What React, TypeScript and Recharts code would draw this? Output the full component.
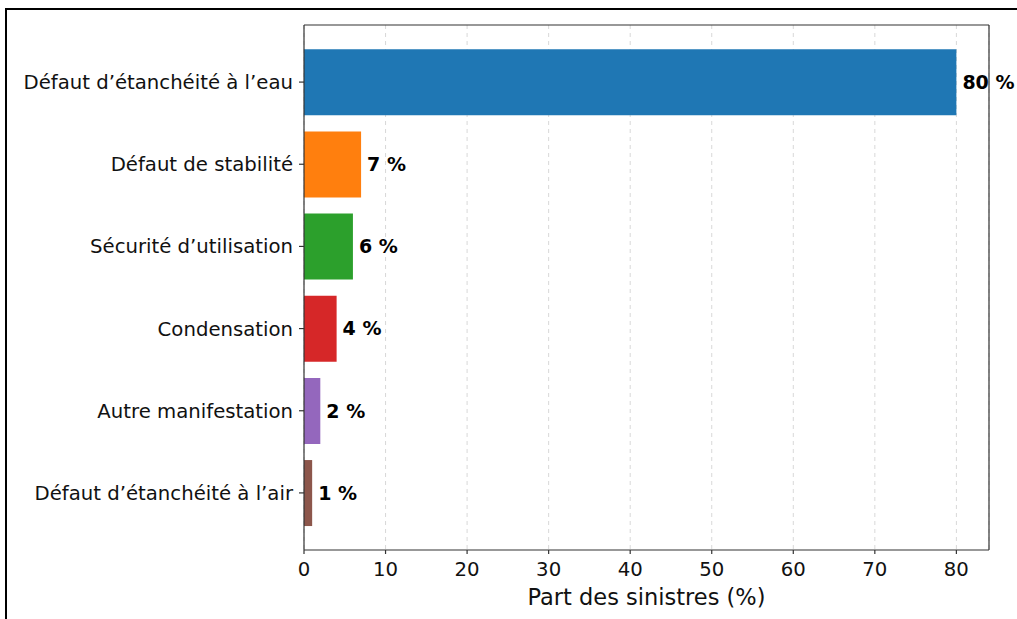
import React from "react";
import { BarChart, Bar, XAxis, YAxis, CartesianGrid, Cell, LabelList } from "recharts";

const categories = [
  "Défaut d’étanchéité à l’eau",
  "Défaut de stabilité",
  "Sécurité d’utilisation",
  "Condensation",
  "Autre manifestation",
  "Défaut d’étanchéité à l’air",
];
const values = [80, 7, 6, 4, 2, 1];
const valueLabels = ["80 %", "7 %", "6 %", "4 %", "2 %", "1 %"];
const colors = ["#1f77b4", "#ff7f0e", "#2ca02c", "#d62728", "#9467bd", "#8c564b"];
const xTicks = [0, 10, 20, 30, 40, 50, 60, 70, 80];

const data = categories.map((name, i) => ({ name, value: values[i], label: valueLabels[i] }));

const FONT = "'DejaVu Sans', sans-serif";
const AXIS = "#333";

export default function App() {
  return (
    <div style={{ position: "absolute", left: 0, top: 0, width: 1017, height: 619, overflow: "hidden", background: "#fff" }}>
      <div
        style={{
          position: "absolute",
          left: 5,
          top: 8,
          width: 1012,
          height: 611,
          boxSizing: "border-box",
          borderTop: "2px solid #000",
          borderLeft: "2px solid #000",
        }}
      />
      <div style={{ position: "absolute", left: 0, top: 0 }}>
        <BarChart
          width={1017}
          height={619}
          data={data}
          layout="vertical"
          margin={{ top: 24, right: 27, bottom: 0, left: 0 }}
          barCategoryGap="10%"
        >
          <CartesianGrid horizontal={false} strokeDasharray="4 4" stroke="#d8d8d8" xAxisId={0} yAxisId={0} />
          <XAxis
            xAxisId={0}
            type="number"
            domain={[0, 84]}
            ticks={xTicks}
            allowDataOverflow
            height={69}
            tickSize={4}
            tickMargin={8}
            stroke={AXIS}
            strokeWidth={1.2}
            tick={{ fill: "#111", fontSize: 19.7, fontFamily: FONT }}
            label={{
              value: "Part des sinistres (%)",
              position: "insideBottom",
              offset: 14,
              style: { fill: "#111", fontSize: 22.5, fontFamily: FONT },
            }}
          />
          <XAxis
            xAxisId="top"
            orientation="top"
            type="number"
            domain={[0, 84]}
            height={1}
            tick={false}
            tickLine={false}
            stroke={AXIS}
            strokeWidth={1.2}
          />
          <YAxis
            yAxisId={0}
            type="category"
            dataKey="name"
            width={304}
            padding={{ top: 16, bottom: 16 }}
            tickSize={5}
            tickMargin={6}
            stroke={AXIS}
            strokeWidth={1.2}
            interval={0}
            tick={{ fill: "#111", fontSize: 19.7, fontFamily: FONT }}
          />
          <YAxis
            yAxisId="right"
            orientation="right"
            type="category"
            dataKey="name"
            width={1}
            tick={false}
            tickLine={false}
            stroke={AXIS}
            strokeWidth={1.2}
          />
          <Bar dataKey="value" xAxisId={0} yAxisId={0} isAnimationActive={false}>
            {data.map((d, i) => (
              <Cell key={d.name} fill={colors[i]} />
            ))}
            <LabelList
              dataKey="label"
              position="right"
              offset={6}
              style={{ fill: "#000", fontSize: 19, fontWeight: "bold", fontFamily: FONT }}
            />
          </Bar>
        </BarChart>
      </div>
    </div>
  );
}
